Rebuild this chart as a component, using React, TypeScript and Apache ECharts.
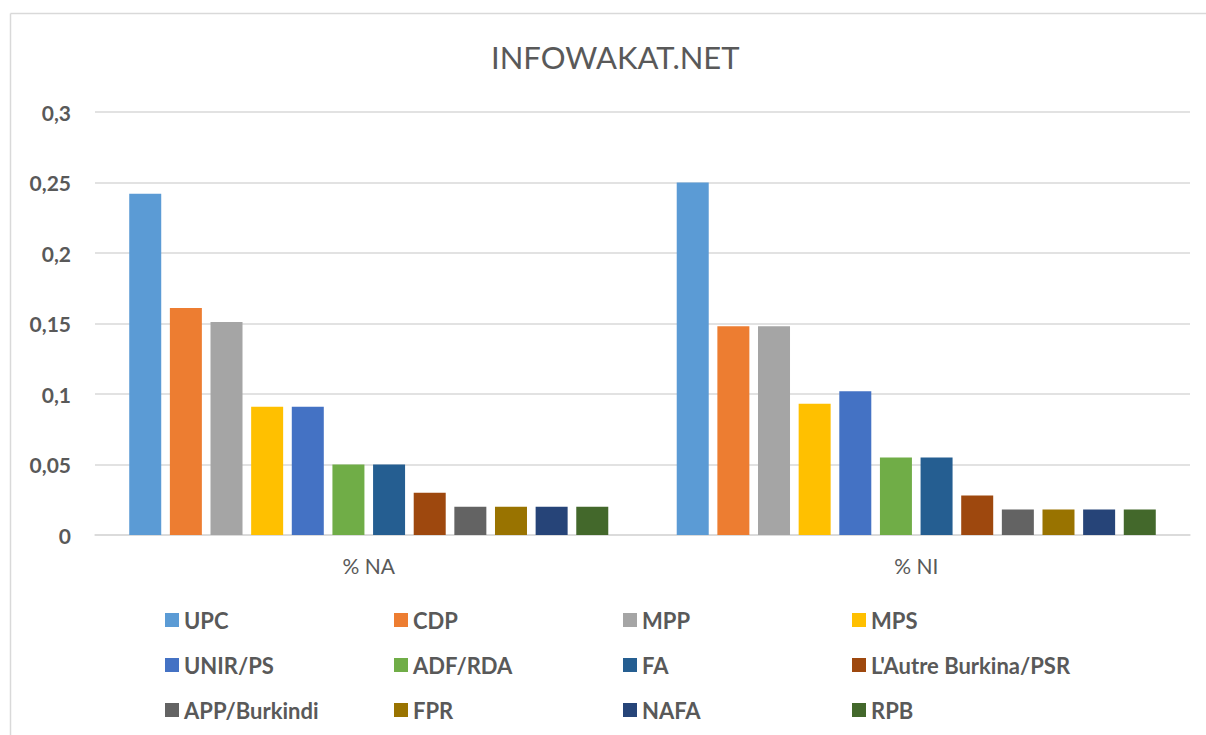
import React, { useEffect, useRef } from "react";
import * as echarts from "echarts";

const categories = ["% NA", "% NI"];
const parties = [
  "UPC", "CDP", "MPP", "MPS",
  "UNIR/PS", "ADF/RDA", "FA", "L'Autre Burkina/PSR",
  "APP/Burkindi", "FPR", "NAFA", "RPB",
];
const naValues = [0.242, 0.161, 0.151, 0.091, 0.091, 0.05, 0.05, 0.03, 0.02, 0.02, 0.02, 0.02];
const niValues = [0.25, 0.148, 0.148, 0.093, 0.102, 0.055, 0.055, 0.028, 0.018, 0.018, 0.018, 0.018];
const colors = [
  "#5b9bd5", "#ed7d31", "#a5a5a5", "#ffc000",
  "#4472c4", "#70ad47", "#255e91", "#9e480e",
  "#636363", "#997300", "#264478", "#43682b",
];
const yTicks = [0, 0.05, 0.1, 0.15, 0.2, 0.25, 0.3];
const title = "INFOWAKAT.NET";

export default function App() {
  const ref = useRef<HTMLDivElement>(null);
  useEffect(() => {
    if (!ref.current) return;
    const chart = echarts.init(ref.current, null, { renderer: "svg" });
    const textColor = "#595959";
    const font = "Lato";
    const colLefts = [165, 394, 623, 852];
    const rowTops = [609, 654, 699];
    const legends = parties.map((name, i) => ({
      left: colLefts[i % 4],
      top: rowTops[Math.floor(i / 4)],
      padding: 0,
      orient: "horizontal",
      icon: "rect",
      itemWidth: 14,
      itemHeight: 14,
      data: [name],
      textStyle: {
        color: textColor,
        fontFamily: font,
        fontWeight: "bold",
        fontSize: 22,
      },
    }));
    chart.setOption({
      animation: false,
      backgroundColor: "#ffffff",
      color: colors,
      title: {
        text: title,
        left: 486,
        top: 36,
        textStyle: { color: textColor, fontFamily: font, fontWeight: "normal", fontSize: 31 },
      },
      legend: legends,
      grid: { left: 95, right: 16, top: 112, bottom: 200 },
      xAxis: {
        type: "category",
        data: categories,
        axisTick: { show: false },
        axisLine: { lineStyle: { color: "#d9d9d9", width: 1.5 } },
        axisLabel: { color: textColor, fontFamily: font, fontSize: 21, margin: 20 },
      },
      yAxis: {
        type: "value",
        min: yTicks[0],
        max: yTicks[yTicks.length - 1],
        interval: 0.05,
        axisLine: { show: false },
        axisTick: { show: false },
        splitLine: { lineStyle: { color: "#d9d9d9", width: 1.5 } },
        axisLabel: {
          color: textColor,
          fontFamily: font,
          fontWeight: "bold",
          fontSize: 21,
          margin: 24,
          formatter: (v: number) => String(Math.round(v * 100) / 100).replace(".", ","),
        },
      },
      graphic: [
        { type: "line", shape: { x1: 10.5, y1: 13.5, x2: 1206, y2: 13.5 }, style: { stroke: "#d9d9d9", lineWidth: 1.5 } },
        { type: "line", shape: { x1: 10.5, y1: 13.5, x2: 10.5, y2: 735 }, style: { stroke: "#d9d9d9", lineWidth: 1.5 } },
      ],
      series: parties.map((name, i) => ({
        name,
        type: "bar",
        barWidth: 32,
        barGap: "27%",
        data: [naValues[i], niValues[i]],
        itemStyle: { color: colors[i] },
      })),
    });
    return () => chart.dispose();
  }, []);
  return (
    <div
      ref={ref}
      style={{ position: "fixed", left: 0, top: 0, width: 1206, height: 735, background: "#fff" }}
    />
  );
}
